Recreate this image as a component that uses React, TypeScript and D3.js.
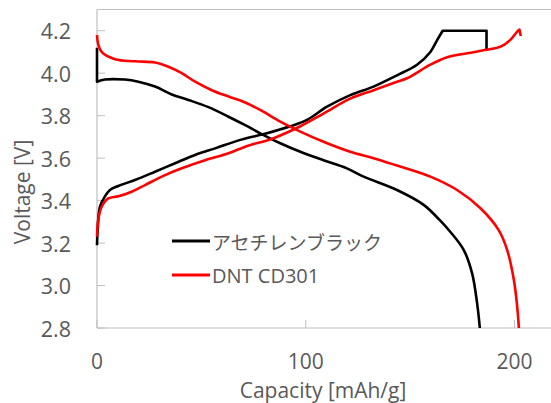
import React from "react";
import * as d3 from "d3";

// Acetylene black (アセチレンブラック) – charge
const abChargeCap = [0, 0.3, 1.4, 3.8, 6.2, 10.2, 18.2, 27.8, 37.4, 47, 56.6, 68.6, 81.4, 92.6, 100.6, 110.2, 121.3, 132.5, 143.7, 153.3, 159.7, 163, 165.6, 186.6, 186.6];
const abChargeV = [3.19, 3.26, 3.37, 3.42, 3.45, 3.469, 3.497, 3.536, 3.576, 3.615, 3.646, 3.686, 3.717, 3.75, 3.78, 3.842, 3.897, 3.937, 3.99, 4.04, 4.1, 4.157, 4.2, 4.2, 4.11];
// Acetylene black – discharge
const abDisCap = [0, 0, 3.8, 13.4, 19.8, 27.8, 35.8, 43.8, 53.4, 63, 71, 78.2, 87.8, 97.4, 108.5, 119.7, 127.7, 143.7, 156.5, 164, 169.5, 175.7, 179.7, 182.1, 183.4];
const abDisV = [4.12, 3.96, 3.97, 3.97, 3.96, 3.937, 3.9, 3.874, 3.84, 3.795, 3.755, 3.717, 3.67, 3.63, 3.59, 3.552, 3.513, 3.45, 3.38, 3.31, 3.25, 3.167, 3.057, 2.916, 2.8];
// DNT CD301 – charge
const dntChargeCap = [0, 0.6, 2.2, 5.4, 10.2, 16.6, 23, 31, 40.6, 51.8, 63, 71, 84.6, 97.4, 108.5, 121.3, 132.5, 143.7, 148.5, 159.7, 167.7, 177.3, 186.6, 193.3, 198, 201.3, 202.4, 203];
const dntChargeV = [3.23, 3.31, 3.37, 3.41, 3.42, 3.442, 3.473, 3.513, 3.552, 3.59, 3.623, 3.654, 3.694, 3.75, 3.81, 3.88, 3.92, 3.96, 3.976, 4.04, 4.075, 4.094, 4.11, 4.125, 4.157, 4.196, 4.205, 4.175];
// DNT CD301 – discharge
const dntDisCap = [0, 0.5, 2.2, 8.6, 18.2, 27.8, 34.2, 40.6, 47, 55, 63, 71, 78.2, 87.8, 97.4, 108.5, 121.3, 132.5, 143.7, 159.7, 172.5, 183.7, 192.5, 196.5, 199.7, 201.3, 202.1];
const dntDisV = [4.18, 4.14, 4.1, 4.066, 4.056, 4.05, 4.03, 4.0, 3.96, 3.92, 3.89, 3.862, 3.827, 3.772, 3.725, 3.677, 3.63, 3.6, 3.565, 3.513, 3.45, 3.364, 3.26, 3.167, 3.026, 2.9, 2.8];

const xTicks = [0, 100, 200];
const yTicks = [2.8, 3.0, 3.2, 3.4, 3.6, 3.8, 4.0, 4.2];
const legendLabels = ["アセチレンブラック", "DNT CD301"];
const seriesColors = ["#000000", "#ff0000"];
const xTitle = "Capacity [mAh/g]";
const yTitle = "Voltage [V]";

const W = 551;
const H = 403;
const left = 97;
const top = 9.5;
const bottom = 328;

export default function App() {
  const x = d3.scaleLinear().domain([0, 200]).range([left, 514.5]);
  const y = d3.scaleLinear().domain([2.8, 4.3]).range([bottom, top]);
  const line = d3
    .line<[number, number]>()
    .x((d) => x(d[0]))
    .y((d) => y(d[1]))
    .curve(d3.curveCatmullRom.alpha(0.5));

  // build a smooth path, but keep sharp corners where the data has a straight edge
  const mk = (c: number[], v: number[], corners: number[]) => {
    const pts = c.map((cc, i) => [cc, v[i]] as [number, number]);
    const cuts = [0, ...corners, pts.length - 1];
    let d = "";
    for (let k = 0; k < cuts.length - 1; k++) {
      const seg = pts.slice(cuts[k], cuts[k + 1] + 1);
      const s = line(seg) || "";
      d += k === 0 ? s : s.replace(/^M[^LC]*/, "");
    }
    return d;
  };

  const curves = [
    { d: mk(abChargeCap, abChargeV, [22, 23]), color: seriesColors[0] },
    { d: mk(abDisCap, abDisV, [1]), color: seriesColors[0] },
    { d: mk(dntChargeCap, dntChargeV, [26]), color: seriesColors[1] },
    { d: mk(dntDisCap, dntDisV, []), color: seriesColors[1] },
  ];

  const axisColor = "#bfbfbf";
  const textColor = "#595959";
  const font = "'Open Sans', 'Noto Sans', sans-serif";
  const fs = 21;

  return (
    <svg
      width={W}
      height={H}
      style={{ position: "absolute", left: 0, top: 0, background: "#fff" }}
    >
      <rect x={0} y={0} width={W} height={H} fill="#fff" />
      <line x1={left} x2={W} y1={top} y2={top} stroke={axisColor} strokeWidth={1} />
      <line x1={left} x2={left} y1={top} y2={bottom} stroke={axisColor} strokeWidth={1.2} />
      <line x1={left} x2={W} y1={bottom} y2={bottom} stroke={axisColor} strokeWidth={1.2} />
      {yTicks.map((t) => (
        <g key={"y" + t}>
          <line x1={left} x2={left + 8} y1={y(t)} y2={y(t)} stroke={axisColor} strokeWidth={1} />
          <text
            x={71}
            y={y(t)}
            textAnchor="end"
            dominantBaseline="central"
            fontFamily={font}
            fontSize={fs + 0.5}
            fill={textColor}
          >
            {t.toFixed(1)}
          </text>
        </g>
      ))}
      {xTicks.map((t) => (
        <g key={"x" + t}>
          <line x1={x(t)} x2={x(t)} y1={bottom} y2={bottom - 8} stroke={axisColor} strokeWidth={1} />
          <text
            x={x(t)}
            y={369}
            textAnchor="middle"
            fontFamily={font}
            fontSize={fs}
            fill={textColor}
          >
            {t}
          </text>
        </g>
      ))}
      {curves.map((c, i) => (
        <path key={i} d={c.d} fill="none" stroke={c.color} strokeWidth={2.6} strokeLinejoin="round" />
      ))}
      {legendLabels.map((lab, i) => {
        const ly = i === 0 ? 241 : 275;
        return (
          <g key={lab}>
            <line x1={172} x2={210} y1={ly} y2={ly} stroke={seriesColors[i]} strokeWidth={3} />
            <text
              x={212}
              y={ly}
              dominantBaseline="central"
              fontFamily={i === 0 ? "'Noto Sans CJK JP', sans-serif" : font}
              fontSize={i === 0 ? 19 : 20}
              fill={textColor}
            >
              {lab}
            </text>
          </g>
        );
      })}
      <text x={323} y={398} textAnchor="middle" fontFamily={font} fontSize={fs} fill={textColor}>
        {xTitle}
      </text>
      <text
        transform={`translate(30, 192) rotate(-90)`}
        textAnchor="middle"
        fontFamily={font}
        fontSize={fs}
        fill={textColor}
      >
        {yTitle}
      </text>
    </svg>
  );
}
